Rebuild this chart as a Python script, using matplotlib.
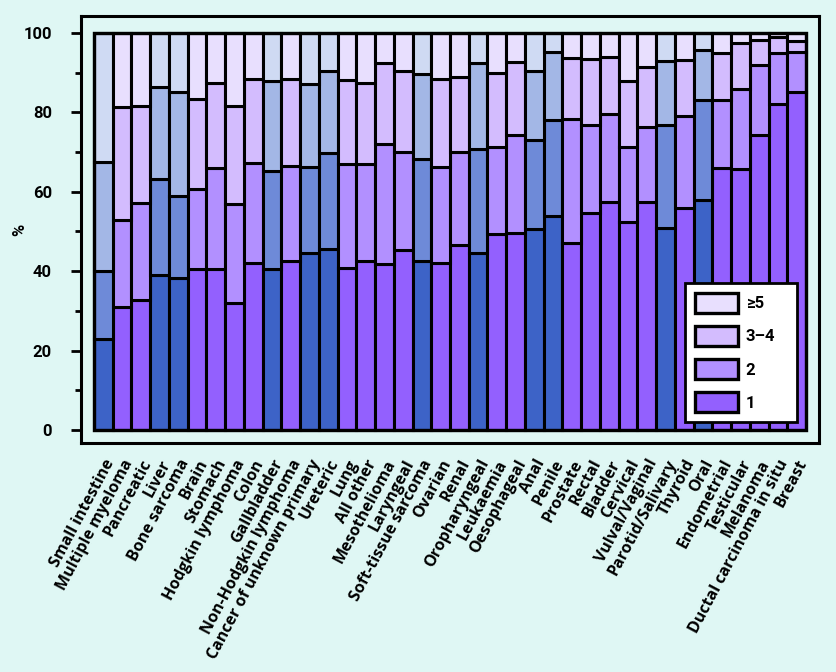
# ============================================
# Stacked bar chart: % of patients by number of
# pre-referral consultations, per cancer site
# ============================================

import matplotlib
matplotlib.use('Agg')
import matplotlib.pyplot as plt
from matplotlib.patches import Patch, Rectangle

# =============================================
# DATA
# =============================================
cancers = ['Small intestine', 'Multiple myeloma', 'Pancreatic', 'Liver', 'Bone sarcoma',
           'Brain', 'Stomach', 'Hodgkin lymphoma', 'Colon', 'Gallbladder',
           'Non-Hodgkin lymphoma', 'Cancer of unknown primary', 'Ureteric', 'Lung',
           'All other', 'Mesothelioma', 'Laryngeal', 'Soft-tissue sarcoma', 'Ovarian',
           'Renal', 'Oropharyngeal', 'Leukaemia', 'Oesophageal', 'Anal', 'Penile',
           'Prostate', 'Rectal', 'Bladder', 'Cervical', 'Vulval/Vaginal',
           'Parotid/Salivary', 'Thyroid', 'Oral', 'Endometrial', 'Testicular',
           'Melanoma', 'Ductal carcinoma in situ', 'Breast']

# % with 1, 2, 3-4 and >=5 consultations
one = [22.8, 30.9, 32.7, 39.0, 38.2, 40.5, 40.5, 32.1, 42.1, 40.5,
       42.6, 44.5, 45.5, 40.7, 42.6, 41.7, 45.3, 42.6, 42.1, 46.6,
       44.5, 49.3, 49.7, 50.6, 53.9, 47.2, 54.7, 57.5, 52.5, 57.5,
       50.8, 56.0, 57.9, 65.9, 65.7, 74.3, 82.1, 85.2]
two = [17.3, 22.0, 24.6, 24.1, 20.7, 20.1, 25.4, 24.7, 25.1, 24.7,
       24.0, 21.8, 24.2, 26.3, 24.4, 30.3, 24.6, 25.6, 24.2, 23.3,
       26.2, 22.1, 24.6, 22.4, 24.2, 31.1, 22.1, 22.1, 18.7, 18.9,
       26.0, 23.1, 25.2, 17.2, 20.1, 17.6, 12.8, 9.9]
three_four = [27.3, 28.4, 24.4, 23.4, 26.3, 22.8, 21.6, 24.9, 21.1, 22.7,
              21.7, 20.9, 20.8, 21.2, 20.3, 20.4, 20.5, 21.4, 22.0, 19.1,
              21.7, 18.4, 18.5, 17.4, 17.0, 15.5, 16.6, 14.4, 16.6, 15.1,
              16.2, 14.1, 12.6, 11.8, 11.6, 6.3, 4.0, 3.0]
five_plus = [32.6, 18.7, 18.3, 13.5, 14.8, 16.6, 12.5, 18.3, 11.7, 12.1,
             11.7, 12.8, 9.5, 11.8, 12.7, 7.6, 9.6, 10.4, 11.7, 11.0,
             7.6, 10.2, 7.2, 9.6, 4.9, 6.2, 6.6, 6.0, 12.2, 8.5,
             7.0, 6.8, 4.3, 5.1, 2.6, 1.8, 1.1, 1.9]

# which bars are drawn in the blue palette (rest are purple)
blue_bars = ['Small intestine', 'Liver', 'Bone sarcoma', 'Gallbladder',
             'Cancer of unknown primary', 'Ureteric', 'Soft-tissue sarcoma',
             'Oropharyngeal', 'Anal', 'Penile', 'Parotid/Salivary', 'Oral']

legend_labels = ['1', '2', '3\u20134', '\u22655']

# =============================================
# STYLE
# =============================================
bg = '#dff7f4'
purple = ['#9360fe', '#b290ff', '#d3bcfe', '#e8dffe']
blue = ['#3d63c7', '#6e8ad8', '#a3b7e6', '#cfdaf3']

fig = plt.figure(figsize=(8.37, 6.72), dpi=100, facecolor=bg)
ax = fig.add_axes([0.0968, 0.3408, 0.8817, 0.6354])
ax.set_facecolor(bg)

x = list(range(len(cancers)))
series = [one, two, three_four, five_plus]
bottom = [0.0] * len(cancers)
for k, vals in enumerate(series):
    cols = [blue[k] if c in blue_bars else purple[k] for c in cancers]
    ax.bar(x, vals, width=1.0, bottom=bottom, color=cols,
           edgecolor='black', linewidth=2.2, zorder=2)
    bottom = [b + v for b, v in zip(bottom, vals)]

# frame round the whole group of bars
ax.add_patch(Rectangle((-0.5, 0), len(cancers), 100, fill=False,
                       edgecolor='black', linewidth=2.4, zorder=3))

ax.set_xlim(-1.19, len(cancers) - 0.5 + 0.69)
ax.set_ylim(-3.27, 104.28)

for s in ax.spines.values():
    s.set_linewidth(2.2)
    s.set_color('black')

# y axis
ax.set_yticks([0, 20, 40, 60, 80, 100])
ax.set_yticks([10, 30, 50, 70, 90], minor=True)
ax.tick_params(axis='y', which='major', length=7, width=2, direction='out', pad=14)
ax.tick_params(axis='y', which='minor', length=4, width=2, direction='out')
for lab in ax.get_yticklabels():
    lab.set_fontfamily('Roboto')
    lab.set_fontweight('bold')
    lab.set_fontsize(12)
ax.set_ylabel('%', fontfamily='Roboto', fontweight='bold', fontsize=12)
ax.yaxis.set_label_coords(-0.073, 0.5)

# x axis
ax.set_xticks(x)
ax.set_xticklabels(cancers, rotation=62, ha='right', va='top', rotation_mode='anchor',
                   fontfamily='Open Sans', fontweight='bold', fontsize=11.5)
ax.tick_params(axis='x', length=0, pad=10)

# legend
handles = [Patch(facecolor=purple[k], edgecolor='black', linewidth=2.4,
                 label=legend_labels[k]) for k in range(3, -1, -1)]
leg = ax.legend(handles=handles, loc='lower left',
                bbox_to_anchor=(0.818, 0.049, 0.152, 0.335), mode='expand',
                borderaxespad=0, fancybox=False, framealpha=1, edgecolor='black',
                handlelength=2.6, handleheight=1.45, labelspacing=0.8,
                handletextpad=0.45, borderpad=0.6,
                prop={'family': 'Roboto', 'weight': 'bold', 'size': 12})
leg.get_frame().set_linewidth(2)
leg.set_zorder(5)

plt.savefig('out.png', dpi=100, facecolor=bg)
